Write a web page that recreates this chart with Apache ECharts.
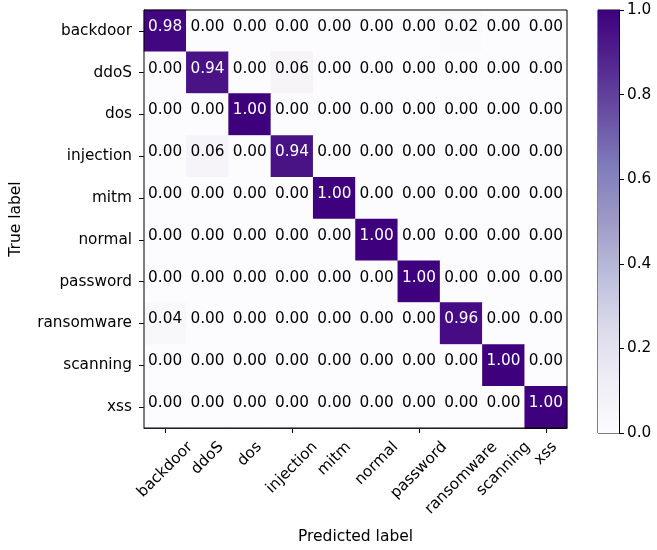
<!DOCTYPE html>
<html>
<head>
<meta charset="utf-8">
<script src="https://cdn.jsdelivr.net/npm/echarts@6/dist/echarts.min.js"></script>
<style>html,body{margin:0;padding:0;background:#fff;}#c{width:657px;height:550px;}</style>
</head>
<body>
<div id="c"></div>
<script>
var categories = ['backdoor','ddoS','dos','injection','mitm','normal','password','ransomware','scanning','xss'];
var rowBackdoor   = [0.98,0.00,0.00,0.00,0.00,0.00,0.00,0.02,0.00,0.00];
var rowDdos       = [0.00,0.94,0.00,0.06,0.00,0.00,0.00,0.00,0.00,0.00];
var rowDos        = [0.00,0.00,1.00,0.00,0.00,0.00,0.00,0.00,0.00,0.00];
var rowInjection  = [0.00,0.06,0.00,0.94,0.00,0.00,0.00,0.00,0.00,0.00];
var rowMitm       = [0.00,0.00,0.00,0.00,1.00,0.00,0.00,0.00,0.00,0.00];
var rowNormal     = [0.00,0.00,0.00,0.00,0.00,1.00,0.00,0.00,0.00,0.00];
var rowPassword   = [0.00,0.00,0.00,0.00,0.00,0.00,1.00,0.00,0.00,0.00];
var rowRansomware = [0.04,0.00,0.00,0.00,0.00,0.00,0.00,0.96,0.00,0.00];
var rowScanning   = [0.00,0.00,0.00,0.00,0.00,0.00,0.00,0.00,1.00,0.00];
var rowXss        = [0.00,0.00,0.00,0.00,0.00,0.00,0.00,0.00,0.00,1.00];
var colorbarTicks = [0.0,0.2,0.4,0.6,0.8,1.0];

var rows = [rowBackdoor,rowDdos,rowDos,rowInjection,rowMitm,rowNormal,rowPassword,rowRansomware,rowScanning,rowXss];
var purples = ['#fcfbfd','#efedf5','#dadaeb','#bcbddc','#9e9ac8','#807dba','#6a51a3','#54278f','#3f007d'];
var FONT = 'DejaVu Sans';
var FS = 15.3;

var data = [];
rows.forEach(function(r, yi){
  r.forEach(function(v, xi){
    data.push({value:[xi, yi, v], label:{color: v > 0.5 ? '#ffffff' : '#000000'}});
  });
});

var stops = purples.map(function(c,i){ return {offset: i/(purples.length-1), color: c}; });

var chart = echarts.init(document.getElementById('c'), null, {renderer:'canvas'});
var option = {
  animation: false,
  backgroundColor: '#ffffff',
  textStyle: {fontFamily: FONT},
  grid: [
    {left:143, top:10, width:424, height:423, show:true, borderColor:'#000', borderWidth:1, backgroundColor:'transparent', z:10},
    {left:598, top:10, width:21, height:423, show:true, borderColor:'#000', borderWidth:1, backgroundColor:'transparent'}
  ],
  xAxis: [
    {type:'category', gridIndex:0, data:categories, position:'bottom',
     axisLine:{show:true, lineStyle:{color:'#000', width:1}},
     axisTick:{show:true, alignWithLabel:true, length:5, lineStyle:{color:'#000'}},
     axisLabel:{show:false},
     splitLine:{show:false},
     name:'Predicted label', nameLocation:'middle', nameGap:101,
     nameTextStyle:{fontFamily:FONT, fontSize:15.5, color:'#000'}},
    {type:'category', gridIndex:1, data:['c'], show:false}
  ],
  yAxis: [
    {type:'category', gridIndex:0, data:categories, inverse:true,
     axisLine:{show:true, lineStyle:{color:'#000', width:1}},
     axisTick:{show:true, alignWithLabel:true, length:5, lineStyle:{color:'#000'}},
     axisLabel:{show:true, margin:12, fontFamily:FONT, fontSize:FS, color:'#000', padding:[4,0,0,0]},
     splitLine:{show:false},
     name:'True label', nameLocation:'middle', nameGap:120, nameRotate:90,
     nameTextStyle:{fontFamily:FONT, fontSize:15.5, color:'#000'}},
    {type:'value', gridIndex:1, min:0, max:1, interval:0.2, position:'right',
     axisLine:{show:true, lineStyle:{color:'#000', width:1}},
     axisTick:{show:true, length:5, lineStyle:{color:'#000'}},
     axisLabel:{show:true, margin:8, fontFamily:FONT, fontSize:FS, color:'#000', formatter:function(v){return v.toFixed(1);}},
     splitLine:{show:false}}
  ],
  visualMap: {show:false, type:'continuous', min:0, max:1, dimension:2, seriesIndex:0, inRange:{color:purples}},
  series: [
    {type:'heatmap', xAxisIndex:0, yAxisIndex:0, data:data,
     label:{show:true, fontFamily:FONT, fontSize:FS, offset:[0,-4],
       formatter:function(p){return p.value[2].toFixed(2);}},
     emphasis:{disabled:true}, itemStyle:{borderWidth:0}},
    {type:'bar', xAxisIndex:1, yAxisIndex:1, data:[1], barWidth:'100%', silent:true,
     itemStyle:{color:new echarts.graphic.LinearGradient(0,1,0,0,stops)}}
  ]
};
chart.setOption(option);

// rotated x tick labels, matplotlib-like (rotation 45, ha center, top anchored)
var cv = document.createElement('canvas').getContext('2d');
cv.font = FS + 'px "' + FONT + '"';
var gridBottom = chart.convertToPixel({yAxisIndex:0}, categories[categories.length-1]) + 423/20;
var topY = gridBottom + 11;
var h = FS * 1.0;
var gr = categories.map(function(c, i){
  var x = chart.convertToPixel({xAxisIndex:0}, c);
  var L = cv.measureText(c).width;
  var half = (L + h) * Math.SQRT1_2 / 2;
  return {type:'text', x:x, y:topY + half, rotation:Math.PI/4, silent:true,
    style:{text:c, font:FS + 'px "' + FONT + '"', fill:'#000', align:'center', verticalAlign:'middle', textAlign:'center', textVerticalAlign:'middle'}};
});
chart.setOption({graphic: gr});
</script>
</body>
</html>
